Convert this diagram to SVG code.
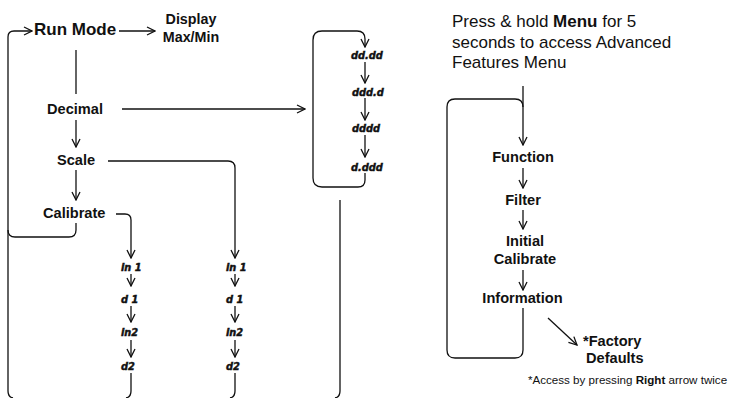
<svg xmlns="http://www.w3.org/2000/svg" width="731" height="398" viewBox="0 0 731 398">
<style>
.c{fill:none;stroke:#111;stroke-width:1.3}
.a{marker-end:url(#ah)}
.t{font-family:"Liberation Sans",Arial,sans-serif;font-weight:bold;font-size:14.6px;fill:#111}
.r{font-family:"Liberation Sans",Arial,sans-serif;font-size:17px;fill:#111}
.s{font-family:"DejaVu Sans",sans-serif;font-weight:bold;font-style:oblique;font-size:9.8px;fill:#111;stroke:#111;stroke-width:0.45}
</style>
<defs>
<marker id="ah" markerUnits="userSpaceOnUse" viewBox="0 0 10 10" refX="9" refY="5" markerWidth="10" markerHeight="10" orient="auto">
<path d="M1,1 L9,5 L1,9" fill="none" stroke="#111" stroke-width="1.3"/>
</marker>
</defs>
<rect width="731" height="398" fill="#fff"/>
<g id="connectors">
<path class="c a" d="M13,398 Q8,397 8,391 L8,37 Q8,31 14,31 L32,31"/>
<path class="c a" d="M119,31 L155,31"/>
<path class="c" d="M76,50 L76,94"/>
<path class="c a" d="M122,109 L305,109"/>
<path class="c a" d="M76,120 L76,147"/>
<path class="c a" d="M108,161 L228,161 Q235,161 235,168 L235,258"/>
<path class="c a" d="M76,170 L76,200"/>
<path class="c a" d="M116,214 L125,214 Q131,214 131,220 L131,258"/>
<path class="c" d="M76,223 L76,230 Q76,237 69,237 L15,237 Q8,237 8,230"/>
<path class="c a" d="M131,274 L131,286"/>
<path class="c a" d="M131,306 L131,322"/>
<path class="c a" d="M131,340 L131,357"/>
<path class="c" d="M131,373 L131,391 Q131,397 126,398"/>
<path class="c a" d="M235,274 L235,286"/>
<path class="c a" d="M235,306 L235,322"/>
<path class="c a" d="M235,340 L235,357"/>
<path class="c" d="M235,373 L235,391 Q235,397 230,398"/>
<path class="c" d="M340,200 L340,391 Q340,397 335,398"/>
<path class="c a" d="M365,173 L365,180 Q365,187 358,187 L322,187 Q313,187 313,178 L313,40 Q313,31 322,31 L357,31 Q365,31 365,39 L365,47"/>
<path class="c a" d="M365,62 L365,83"/>
<path class="c a" d="M365,98 L365,120"/>
<path class="c a" d="M365,135 L365,157"/>
<path class="c a" d="M523,86 L523,145"/>
<path class="c" d="M523,308 L523,350 Q523,358 515,358 L455,358 Q447,358 447,350 L447,107 Q447,99 455,99 L515,99 Q523,99 523,107"/>
<path class="c a" d="M523,168 L523,188"/>
<path class="c a" d="M523,210 L523,229"/>
<path class="c a" d="M523,270 L523,290"/>
<path class="c a" d="M548,318 L577,345"/>
</g>
<g id="run-mode"><text class="t" x="34" y="35" style="font-size:17px">Run Mode</text></g>
<g id="display"><text class="t" x="191" y="24" text-anchor="middle" style="font-size:14.3px">Display</text><text class="t" x="191" y="42" text-anchor="middle" style="font-size:14.3px">Max/Min</text></g>
<g id="decimal"><text class="t" x="47" y="113.5">Decimal</text></g>
<g id="scale"><text class="t" x="57" y="165">Scale</text></g>
<g id="calibrate"><text class="t" x="43" y="218">Calibrate</text></g>
<g id="col1">
<text class="s" x="121" y="271">in 1</text>
<text class="s" x="121" y="303">d 1</text>
<text class="s" x="121" y="336">in2</text>
<text class="s" x="121" y="370">d2</text>
</g>
<g id="col2">
<text class="s" x="226" y="271">in 1</text>
<text class="s" x="226" y="303">d 1</text>
<text class="s" x="226" y="336">in2</text>
<text class="s" x="226" y="370">d2</text>
</g>
<g id="decimal-options">
<text class="s" x="351" y="59">dd.dd</text>
<text class="s" x="352" y="96">ddd.d</text>
<text class="s" x="352" y="132">dddd</text>
<text class="s" x="351" y="171">d.ddd</text>
</g>
<g id="note">
<text class="r" x="452" y="27">Press &amp; hold <tspan font-weight="bold">Menu</tspan> for 5</text>
<text class="r" x="452" y="47.5">seconds to access Advanced</text>
<text class="r" x="452" y="68">Features Menu</text>
</g>
<g id="function"><text class="t" x="523" y="162" text-anchor="middle">Function</text></g>
<g id="filter"><text class="t" x="523" y="205" text-anchor="middle">Filter</text></g>
<g id="initial-calibrate"><text class="t" x="525" y="246" text-anchor="middle">Initial</text><text class="t" x="525" y="264" text-anchor="middle">Calibrate</text></g>
<g id="information"><text class="t" x="522.5" y="303" text-anchor="middle">Information</text></g>
<g id="factory"><text class="t" x="583" y="346">*Factory</text><text class="t" x="586" y="363">Defaults</text></g>
<g id="footnote"><text class="r" x="528" y="384" style="font-size:11.6px">*Access by pressing <tspan font-weight="bold">Right</tspan> arrow twice</text></g>
</svg>
